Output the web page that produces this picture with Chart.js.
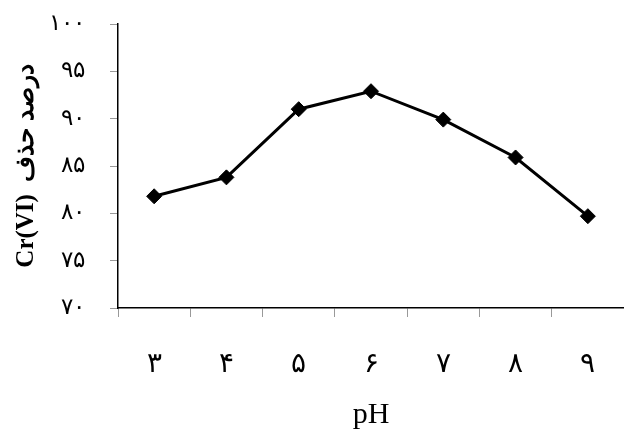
<!DOCTYPE html>
<html>
<head>
<meta charset="utf-8">
<script src="https://cdn.jsdelivr.net/npm/chart.js@4/dist/chart.umd.min.js"></script>
<style>
html,body{margin:0;padding:0;background:#fff;overflow:hidden;}
#wrap{width:624px;height:433px;position:relative;}
</style>
</head>
<body>
<div id="wrap"><canvas id="c"></canvas></div>
<script>
const categories = ["۳", "۴", "۵", "۶", "۷", "۸", "۹"];
const removalPercent = [81.8, 83.8, 91.0, 92.9, 89.9, 85.9, 79.7];
const yTickLabels = {70: "۷۰", 75: "۷۵", 80: "۸۰", 85: "۸۵", 90: "۹۰", 95: "۹۵", 100: "۱۰۰"};
const yTitle = "Cr(VI)  درصد حذف";
const xTitle = "pH";

const serif = "'Liberation Serif', 'Times New Roman', 'DejaVu Serif', serif";

new Chart(document.getElementById('c'), {
  type: 'line',
  data: {
    labels: categories,
    datasets: [{
      data: removalPercent,
      borderColor: '#000',
      backgroundColor: '#000',
      borderWidth: 3,
      pointStyle: 'rectRot',
      pointRadius: 7.5,
      pointHoverRadius: 7.5,
      pointBorderWidth: 1,
      pointBackgroundColor: '#000',
      pointBorderColor: '#000',
      tension: 0,
      fill: false,
      clip: false
    }]
  },
  options: {
    responsive: true,
    maintainAspectRatio: false,
    animation: false,
    devicePixelRatio: 1,
    layout: {autoPadding: false, padding: {left: 0, right: -3, top: 24, bottom: 0}},
    plugins: {legend: {display: false}, tooltip: {enabled: false}},
    scales: {
      x: {
        offset: true,
        grid: {display: true, drawOnChartArea: false, offset: true, tickLength: 9, color: '#999', lineWidth: 1},
        border: {display: true, color: '#000', width: 1.5},
        ticks: {color: '#000', padding: 31, font: {family: serif, size: 28}},
        title: {display: true, text: xTitle, color: '#000', font: {family: serif, size: 30}, padding: {top: 0, bottom: 0}},
        afterFit: (s) => { s.height = 433 - 308; s.paddingLeft = 0; s.paddingRight = 0; }
      },
      y: {
        min: 70,
        max: 100,
        grid: {display: true, drawOnChartArea: false, tickLength: 8, color: '#999', lineWidth: 1},
        border: {display: true, color: '#000', width: 1.5},
        ticks: {stepSize: 5, color: '#000', padding: 25, font: {family: serif, size: 23},
          callback: (v) => yTickLabels[v] !== undefined ? yTickLabels[v] : ''},
        title: {display: true, text: yTitle, color: '#000', font: {family: serif, size: 25, weight: 'bold'}, padding: {top: 12, bottom: 0}},
        afterFit: (s) => { s.width = 118; s.paddingTop = 0; s.paddingBottom = 0; }
      }
    }
  }
});
</script>
</body>
</html>
